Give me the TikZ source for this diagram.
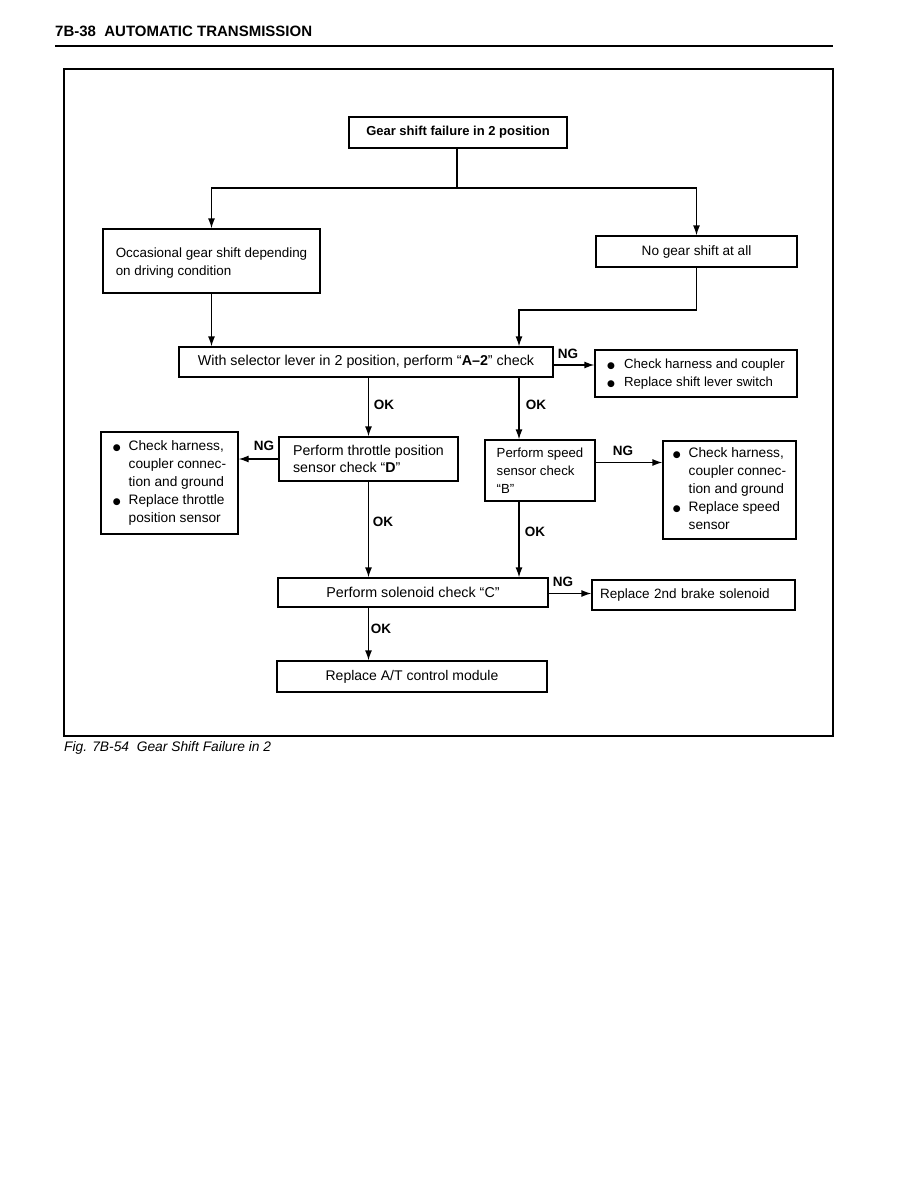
\documentclass[tikz,border=0pt]{standalone}
\usepackage{fontspec}
\setmainfont{Liberation Sans}
\newfontfamily\dvfont{DejaVu Sans}
\usetikzlibrary{arrows.meta,calc}
\tikzset{
  box/.style={draw, line width=1.3pt, inner sep=0pt},
  arr/.style={line width=1.3pt, -{Latex[length=10pt,width=7pt]}},
  conn/.style={line width=1.3pt},
  lbl/.style={font=\bfseries\fontsize{13.5}{15}\selectfont, inner sep=0pt},
  fs/.style={font=\fontsize{#1}{18}\selectfont},
}
\newcommand{\bl}{{\dvfont\fontsize{9}{10}\selectfont ●}}
\begin{document}
\begin{tikzpicture}[x=1pt,y=-1pt]
\useasboundingbox (0,0) rectangle (918,1188);
% header
\node[anchor=west, inner sep=0pt, font=\bfseries\fontsize{15}{17}\selectfont] (hdr) at (55,31) {7B-38\ \ AUTOMATIC TRANSMISSION};
\coordinate (r1) at (55,46);
\coordinate (r2) at (833,46);
\draw[line width=2.6pt] (r1) -- (r2);
% frame
\coordinate (f1) at (64,69);
\coordinate (f2) at (833,736);
\draw[line width=1.4pt] (f1) rectangle (f2);
\node[anchor=west, inner sep=0pt, font=\itshape\fontsize{13.8}{15}\selectfont] (cap) at (64,748) {Fig. 7B-54\ \ Gear Shift Failure in 2};

% boxes
\node[box, line width=2.2pt, minimum width=218, minimum height=31, font=\bfseries\fontsize{13}{15}\selectfont] (top) at (458,132.5) {Gear shift failure in 2 position};
\node[box, fs=13.4, minimum width=217, minimum height=64, align=left] (occ) at (211.5,261) {\rule{0pt}{14pt}Occasional gear shift depending\\on driving condition};
\node[box, fs=13.6, minimum width=201, minimum height=31] (nog) at (696.5,251.5) {No gear shift at all};
\node[box, fs=14.3, minimum width=374, minimum height=30] (a2) at (366,362) {With selector lever in 2 position, perform ``\textbf{A--2}'' check};
\node[box, fs=13.2, minimum width=202, minimum height=47, align=left] (chk1) at (696,373.5) {\begin{tabular}{@{}l@{\hspace{9pt}}l@{}}\bl & Check harness and coupler\\ \bl & Replace shift lever switch\end{tabular}};
\node[box, fs=14.2, minimum width=179, minimum height=44, align=left] (thr) at (368.5,459) {Perform throttle position\\[-1pt]sensor check ``\textbf{D}''};
\node[box, fs=13.7, minimum width=137, minimum height=102, align=left] (chk2) at (169.5,483) {\begin{tabular}{@{}l@{\hspace{8pt}}l@{}}\bl & Check harness,\\ & coupler connec-\\ & tion and ground\\ \bl & Replace throttle\\ & position sensor\end{tabular}};
\node[box, fs=13.2, minimum width=110, minimum height=61, align=left] (spd) at (540,470.5) {Perform speed\\sensor check\\``B''};
\node[box, fs=13.7, minimum width=133, minimum height=98, align=left] (chk3) at (729.5,490) {\begin{tabular}{@{}l@{\hspace{8pt}}l@{}}\bl & Check harness,\\ & coupler connec-\\ & tion and ground\\ \bl & Replace speed\\ & sensor\end{tabular}};
\node[box, fs=14.3, minimum width=270, minimum height=29] (sol) at (413,592.5) {Perform solenoid check ``C''};
\node[box, fs=13.5, minimum width=203, minimum height=30, text width=187, align=left] (brk) at (693.5,595) {Replace 2nd brake solenoid};
\node[box, fs=14, minimum width=270, minimum height=31] (mod) at (412,676.5) {Replace A/T control module};

% connectors
\coordinate (j1) at (457,188);
\coordinate (j2) at (519,310);
\draw[conn] (top.south -| j1) -- (j1);
\draw[arr] (j1) -| (occ.north);
\draw[arr] (j1) -| (nog.north);
\draw[arr] (occ.south) -- (occ.south |- a2.north);
\draw[arr] (nog.south) |- (j2) -- (j2 |- a2.north);
\draw[arr] ([yshift=-3pt]a2.east) -- ([yshift=-3pt]a2.east -| chk1.west);
\draw[arr] (a2.south -| thr.north) -- (thr.north);
\draw[arr] (a2.south -| j2) -- (spd.north -| j2);
\draw[arr] (thr.west) -- (thr.west -| chk2.east);
\draw[arr] ([yshift=8pt]spd.east) -- ([yshift=8pt]spd.east -| chk3.west);
\draw[arr] (thr.south) -- (thr.south |- sol.north);
\draw[arr] (spd.south -| j2) -- (sol.north -| j2);
\draw[arr] ([yshift=-1pt]sol.east) -- ([yshift=-1pt]sol.east -| brk.west);
\draw[arr] (sol.south -| thr.south) -- (mod.north -| thr.south);

% labels
\node[lbl] (ng1) at (568,354) {NG};
\node[lbl] (ok1) at (384,405) {OK};
\node[lbl] (ok2) at (536,405) {OK};
\node[lbl] (ng2) at (264,446) {NG};
\node[lbl] (ng3) at (623,451) {NG};
\node[lbl] (ok3) at (383,522) {OK};
\node[lbl] (ok4) at (535,532) {OK};
\node[lbl] (ng4) at (563,582) {NG};
\node[lbl] (ok5) at (381,629) {OK};
\end{tikzpicture}
\end{document}
